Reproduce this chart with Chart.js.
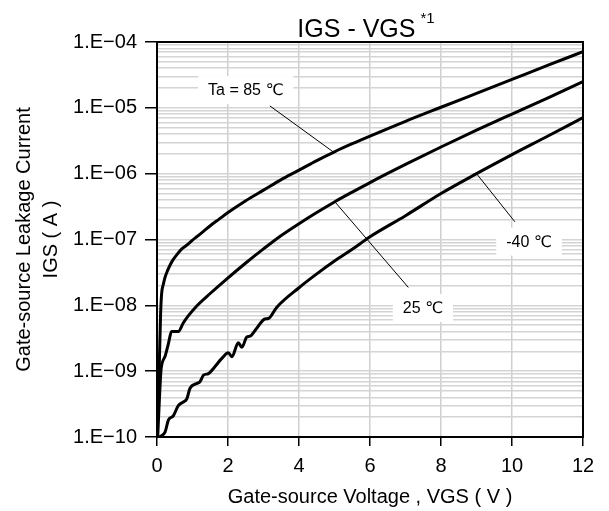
<!DOCTYPE html>
<html>
<head>
<meta charset="utf-8">
<script src="https://cdn.jsdelivr.net/npm/chart.js@4.4.1/dist/chart.umd.min.js"></script>
<style>
  html, body { margin: 0; padding: 0; background: #fff; }
  #wrap { width: 609px; height: 511px; }
</style>
</head>
<body>
<div id="wrap"><canvas id="chart" width="609" height="511"></canvas></div>
<script>
// IGS - VGS curves
const seriesNames = ['Ta = 85 ℃', '25 ℃', '-40 ℃'];

const vgs85 = [0, 0.06, 0.1, 0.13, 0.18, 0.23, 0.3, 0.37, 0.45, 0.55, 0.7, 0.84, 1.0, 1.12, 1.3, 1.5, 1.75, 2.0, 2.5, 3, 3.5, 4, 4.5, 5, 5.5, 6, 7, 8, 9, 10, 11, 12];
const igs85 = [1.0e-10, 1.0e-9, 7.0e-9, 1.5e-8, 2.1e-8, 2.7e-8, 3.4e-8, 4.1e-8, 4.9e-8, 5.8e-8, 7.2e-8, 8.2e-8, 9.8e-8, 1.1e-7, 1.32e-7, 1.62e-7, 2.04e-7, 2.57e-7, 3.89e-7, 5.62e-7, 8.13e-7, 1.13e-6, 1.58e-6, 2.15e-6, 2.85e-6, 3.72e-6, 6.24e-6, 1.02e-5, 1.66e-5, 2.7e-5, 4.4e-5, 7.13e-5];

const vgs25 = [0.02, 0.07, 0.11, 0.14, 0.23, 0.32, 0.41, 0.6, 0.74, 0.88, 1.12, 1.49, 1.92, 2.5, 3, 3.5, 4, 4.5, 5, 5.5, 6, 7, 8, 9, 10, 11, 12];
const igs25 = [1.0e-10, 4.0e-10, 1.0e-9, 1.3e-9, 1.7e-9, 2.6e-9, 4.0e-9, 4.0e-9, 5.4e-9, 6.9e-9, 9.8e-9, 1.5e-8, 2.4e-8, 4.4e-8, 7.2e-8, 1.15e-7, 1.74e-7, 2.57e-7, 3.72e-7, 5.25e-7, 7.33e-7, 1.38e-6, 2.54e-6, 4.57e-6, 8.05e-6, 1.41e-5, 2.51e-5];

const vgsM40 = [0.07, 0.23, 0.32, 0.46, 0.6, 0.74, 0.84, 0.93, 1.12, 1.21, 1.31, 1.45, 1.63, 1.82, 2.01, 2.11, 2.29, 2.39, 2.53, 2.62, 2.81, 3.04, 3.14, 3.37, 4, 4.5, 5, 5.5, 6, 7, 8, 9, 10, 11, 12];
const igsM40 = [1.0e-10, 1.2e-10, 1.8e-10, 2.1e-10, 3.0e-10, 3.4e-10, 3.8e-10, 5.5e-10, 6.5e-10, 6.9e-10, 8.7e-10, 9.2e-10, 1.17e-9, 1.55e-9, 1.9e-9, 1.66e-9, 2.7e-9, 2.3e-9, 3.3e-9, 3.4e-9, 4.5e-9, 6.2e-9, 6.3e-9, 9.3e-9, 1.85e-8, 3.0e-8, 4.7e-8, 7.1e-8, 1.1e-7, 2.3e-7, 5.0e-7, 1.0e-6, 1.95e-6, 3.7e-6, 7.1e-6];

const xTicks = [0, 2, 4, 6, 8, 10, 12];
const yDecades = [-10, -9, -8, -7, -6, -5, -4];
const yTickLabels = ['1.E\u221210', '1.E\u221209', '1.E\u221208', '1.E\u221207', '1.E\u221206', '1.E\u221205', '1.E\u221204'];

// callouts in data units: label centre, line start (at label), line end (on curve)
const callouts = [
    { text: seriesNames[0], x: 2.5, y: 1.86e-5, x1: 3.18, y1: 1.07e-5, x2: 4.97, y2: 2.13e-6 },
    { text: seriesNames[1], x: 7.49, y: 9.1e-9, x1: 7.08, y1: 1.87e-8, x2: 5.01, y2: 3.74e-7 },
    { text: seriesNames[2], x: 10.48, y: 9.3e-8, x1: 10.08, y1: 1.86e-7, x2: 9.0, y2: 1.0e-6 }
];

const FONT = "'Liberation Sans', Arial, 'DejaVu Sans', sans-serif";

function toPoints(xs, ys) {
    return xs.map((x, i) => ({ x: x, y: ys[i] }));
}

function isDecade(v) {
    const e = Math.log10(v);
    return Math.abs(e - Math.round(e)) < 1e-6;
}

function curve(label, xs, ys) {
    return {
        label: label,
        data: toPoints(xs, ys),
        borderColor: '#000',
        borderWidth: 3,
        pointRadius: 0,
        pointHitRadius: 0,
        cubicInterpolationMode: 'monotone',
        fill: false
    };
}

const decorations = {
    id: 'decorations',
    afterDatasetsDraw(chart) {
        const { ctx, chartArea, scales } = chart;
        const sx = scales.x, sy = scales.y;
        ctx.save();

        // callout lines
        ctx.strokeStyle = '#000';
        ctx.lineWidth = 1;
        callouts.forEach(c => {
            ctx.beginPath();
            ctx.moveTo(sx.getPixelForValue(c.x1), sy.getPixelForValue(c.y1));
            ctx.lineTo(sx.getPixelForValue(c.x2), sy.getPixelForValue(c.y2));
            ctx.stroke();
        });

        // labels on white boxes
        ctx.font = '16px ' + FONT;
        ctx.textAlign = 'center';
        ctx.textBaseline = 'middle';
        callouts.forEach(c => {
            const px = sx.getPixelForValue(c.x);
            const py = sy.getPixelForValue(c.y);
            const w = ctx.measureText(c.text).width + 20;
            const h = 28;
            ctx.fillStyle = '#fff';
            ctx.fillRect(px - w / 2, py - h / 2, w, h);
            ctx.fillStyle = '#000';
            ctx.fillText(c.text, px, py + 1);
        });

        // frame
        ctx.lineWidth = 2;
        ctx.strokeRect(chartArea.left, chartArea.top, chartArea.right - chartArea.left, chartArea.bottom - chartArea.top);

        // title with superscript
        const main = 'IGS - VGS';
        const sup = '*1';
        ctx.font = '25px ' + FONT;
        const wMain = ctx.measureText(main).width;
        ctx.font = '15px ' + FONT;
        const wSup = ctx.measureText(sup).width;
        const gap = 5;
        const cx = (chartArea.left + chartArea.right) / 2;
        const x0 = cx - (wMain + gap + wSup) / 2 - 4;
        ctx.textAlign = 'left';
        ctx.textBaseline = 'alphabetic';
        ctx.font = '25px ' + FONT;
        ctx.fillText(main, x0, chartArea.top - 5);
        ctx.font = '15px ' + FONT;
        ctx.fillText(sup, x0 + wMain + gap, chartArea.top - 19);

        ctx.restore();
    }
};

new Chart(document.getElementById('chart'), {
    type: 'line',
    data: {
        datasets: [
            curve(seriesNames[0], vgs85, igs85),
            curve(seriesNames[1], vgs25, igs25),
            curve(seriesNames[2], vgsM40, igsM40)
        ]
    },
    options: {
        responsive: false,
        animation: false,
        devicePixelRatio: 1,
        layout: { padding: { top: 42, right: 26, left: 0, bottom: 0 } },
        plugins: {
            legend: { display: false },
            title: { display: false },
            tooltip: { enabled: false }
        },
        scales: {
            x: {
                type: 'linear',
                min: 0,
                max: 12,
                afterBuildTicks: s => { s.ticks = xTicks.map(v => ({ value: v })); },
                afterFit: s => { s.height = 74; },
                grid: { color: '#cfcfcf', lineWidth: 1.5, tickLength: 9, tickColor: '#000', tickWidth: 1.5 },
                border: { color: '#000', width: 2 },
                ticks: { color: '#000', font: { family: FONT, size: 20 }, padding: 8, maxRotation: 0, autoSkip: false },
                title: {
                    display: true,
                    text: 'Gate-source Voltage , VGS ( V )',
                    color: '#000',
                    font: { family: FONT, size: 20, lineHeight: 1.2 },
                    padding: { top: 0, bottom: 2 }
                }
            },
            y: {
                type: 'logarithmic',
                min: 1e-10,
                max: 1e-4,
                afterBuildTicks: s => {
                    const t = [];
                    for (let i = 0; i < yDecades.length - 1; i++) {
                        for (let m = 1; m < 10; m++) t.push({ value: m * Math.pow(10, yDecades[i]) });
                    }
                    t.push({ value: Math.pow(10, yDecades[yDecades.length - 1]) });
                    s.ticks = t;
                },
                afterFit: s => { s.width = 157; },
                grid: {
                    color: '#d4d4d4',
                    lineWidth: 1.5,
                    tickLength: 12,
                    tickWidth: 1.5,
                    tickColor: ctx => (ctx.tick && isDecade(ctx.tick.value)) ? '#000' : 'rgba(0,0,0,0)'
                },
                border: { color: '#000', width: 2 },
                ticks: {
                    color: '#000',
                    font: { family: FONT, size: 20 },
                    padding: 8,
                    autoSkip: false,
                    callback: v => isDecade(v) ? yTickLabels[yDecades.indexOf(Math.round(Math.log10(v)))] : ''
                },
                title: {
                    display: true,
                    text: ['Gate-source Leakage Current', 'IGS ( A )'],
                    color: '#000',
                    font: { family: FONT, size: 20, lineHeight: 1.35 },
                    padding: { top: 11, bottom: 0 }
                }
            }
        }
    },
    plugins: [decorations]
});
</script>
</body>
</html>
